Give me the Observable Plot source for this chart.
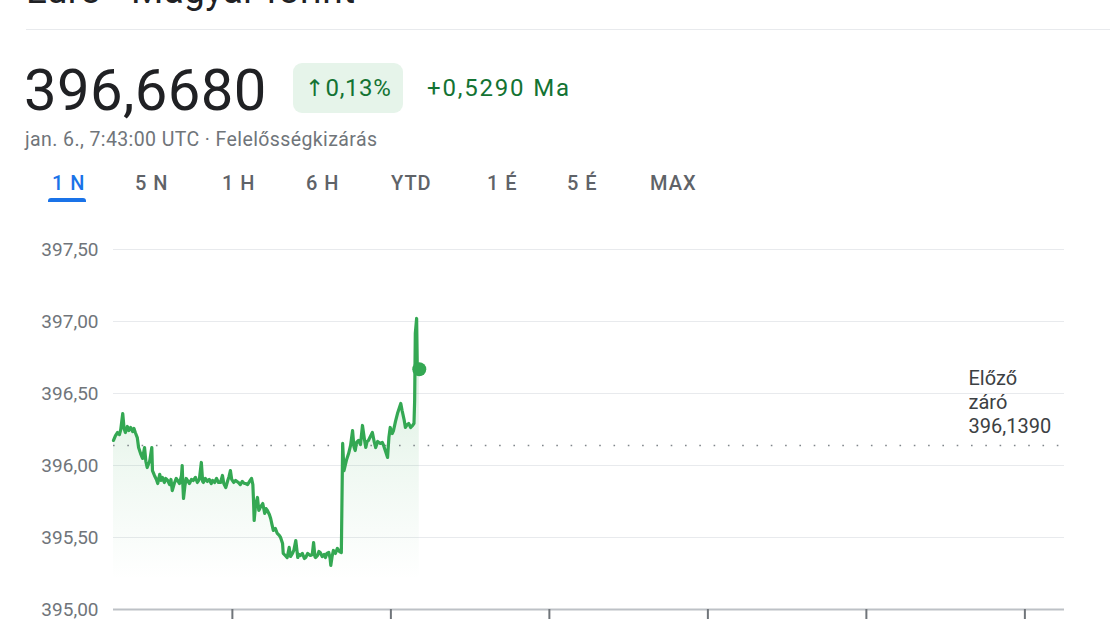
<!DOCTYPE html>
<html>
<head>
<meta charset="utf-8">
<script src="https://cdn.jsdelivr.net/npm/d3@7"></script>
<script src="https://cdn.jsdelivr.net/npm/@observablehq/plot@0.6"></script>
<style>
  html, body { margin: 0; padding: 0; background: #fff; width: 1110px; height: 624px; overflow: hidden; font-family: Roboto, "Noto Sans", sans-serif; }
  .abs { position: absolute; white-space: nowrap; }
  #title { left: 26px; top: -30px; font-size: 37px; color: #202124; line-height: 42px; letter-spacing: 0.3px; }
  #sep { left: 26px; top: 29px; width: 1084px; height: 1px; background: #e8eaed; }
  #price { left: 24px; top: 57px; font-size: 58px; color: #202124; line-height: 66px; letter-spacing: 0.4px; }
  #badge { left: 293px; top: 63px; width: 110px; height: 50px; border-radius: 9px; background: #e6f4ea; color: #137333; font-size: 24px; line-height: 50px; text-align: center; letter-spacing: 0.6px; }
  #badge .arr { font-family: "DejaVu Sans", sans-serif; font-size: 23px; margin-right: 1px; }
  #delta { left: 427px; top: 63px; font-size: 24px; line-height: 50px; color: #137333; letter-spacing: 1.8px; }
  #sub { left: 25px; top: 128px; font-size: 19.5px; color: #70757a; line-height: 24px; letter-spacing: 0.4px; }
  .tab { top: 169px; font-size: 20px; color: #5f6368; font-weight: 500; line-height: 28px; letter-spacing: 1px; }
  .tab.sel { color: #1a73e8; }
  #uline { left: 48px; top: 198px; width: 38px; height: 4px; border-radius: 3px 3px 0 0; background: #1a73e8; }
  #chart { position: absolute; left: 0; top: 230px; }
</style>
</head>
<body>
<div id="title" class="abs"></div>
<div id="sep" class="abs"></div>
<div id="price" class="abs"></div>
<div id="badge" class="abs"><span class="arr"></span><span class="pct"></span></div>
<div id="delta" class="abs"></div>
<div id="sub" class="abs"></div>
<div id="tabs"></div>
<div id="uline" class="abs"></div>
<div id="chart"></div>
<script>
// ---- texts ----
const titleText = "Euro - Magyar forint";
const priceText = "396,6680";
const changeArrow = "↑";
const changePct = "0,13%";
const changeAbs = "+0,5290 Ma";
const subText = "jan. 6., 7:43:00 UTC · Felelősségkizárás";
const tabLabels = ["1 N", "5 N", "1 H", "6 H", "YTD", "1 É", "5 É", "MAX"];
const tabLeft = [52, 135, 222, 306, 391, 487, 567, 650];
const prevCloseLabel = "Előző\nzáró\n396,1390";
const prevClose = 396.139;

// ---- series (time of day UTC, EUR/HUF rate) ----
const times = [
  "0:00","0:03","0:06","0:09","0:11","0:14","0:16","0:18","0:21","0:23",
  "0:26","0:29","0:31","0:33","0:36","0:38","0:41","0:44","0:47","0:49",
  "0:51","0:55","0:58","0:59","1:02","1:05","1:07","1:10","1:12","1:14",
  "1:17","1:19","1:22","1:25","1:27","1:29","1:32","1:35","1:37","1:40",
  "1:43","1:44","1:45","1:46","1:48","1:50","1:52","1:55","1:58","2:01",
  "2:04","2:07","2:10","2:13","2:15","2:16","2:19","2:22","2:25","2:28",
  "2:30","2:33","2:36","2:39","2:42","2:45","2:47","2:50","2:53","2:55",
  "2:57","2:59","3:02","3:05","3:09","3:12","3:15","3:18","3:20","3:23",
  "3:26","3:29","3:31","3:32","3:33","3:35","3:38","3:40","3:43","3:46",
  "3:49","3:51","3:53","3:56","3:58","4:00","4:02","4:05","4:08","4:11",
  "4:13","4:16","4:17","4:20","4:23","4:26","4:28","4:31","4:33","4:36",
  "4:39","4:41","4:43","4:46","4:49","4:51","4:54","4:58","5:01","5:03",
  "5:05","5:06","5:09","5:11","5:13","5:16","5:19","5:21","5:23","5:26",
  "5:28","5:29","5:31","5:33","5:36","5:39","5:42","5:45","5:47","5:49",
  "5:53","5:56","5:59","6:02","6:04","6:06","6:08","6:11","6:14","6:17",
  "6:20","6:22","6:24","6:26","6:29","6:32","6:35","6:37","6:40","6:44",
  "6:47","6:49","6:52","6:55","6:57","6:59","7:02","7:04","7:07","7:10",
  "7:13","7:15","7:17","7:20","7:22","7:25","7:27","7:30","7:33","7:35",
  "7:36","7:37","7:39","7:40","7:43"];
const values = [
  396.174,396.208,396.229,396.215,396.250,396.361,396.257,396.229,396.271,396.243,
  396.264,396.236,396.257,396.229,396.194,396.125,396.083,396.049,396.125,396.028,
  395.986,396.035,396.125,395.965,395.931,395.903,395.875,395.938,395.896,395.917,
  395.882,395.910,395.896,395.868,395.903,395.826,395.875,395.910,395.896,395.875,
  395.931,396.000,395.868,395.771,395.854,395.910,395.896,395.875,395.903,395.896,
  395.917,395.882,395.903,396.021,395.889,395.882,395.910,395.889,395.903,395.875,
  395.896,395.882,395.910,395.882,395.882,395.931,395.875,395.847,395.896,395.924,
  395.965,395.903,395.882,395.896,395.882,395.868,395.889,395.875,395.875,395.868,
  395.889,395.910,395.868,395.757,395.618,395.722,395.778,395.688,395.715,395.736,
  395.667,395.701,395.688,395.660,395.632,395.590,395.549,395.563,395.528,395.514,
  395.500,395.458,395.389,395.375,395.361,395.431,395.368,395.389,395.410,395.479,
  395.361,395.382,395.375,395.389,395.354,395.361,395.389,395.375,395.382,395.465,
  395.368,395.361,395.375,395.403,395.396,395.368,395.382,395.361,395.389,395.396,
  395.354,395.306,395.368,395.410,395.389,395.424,395.403,395.396,396.153,395.965,
  396.042,396.083,396.139,396.243,396.132,396.104,396.160,396.174,396.146,396.278,
  396.181,396.125,396.167,396.174,396.201,396.229,396.160,396.125,396.167,396.153,
  396.160,396.139,396.097,396.056,396.194,396.264,396.222,396.243,396.306,396.361,
  396.403,396.431,396.382,396.319,396.264,396.285,396.292,396.264,396.278,396.292,
  396.451,396.917,397.021,396.681,396.668];

const yTicks = [395, 395.5, 396, 396.5, 397, 397.5];
const xTickTimes = ["3:00", "7:00", "11:00", "15:00", "19:00", "23:00"];
const xDomainTimes = ["0:00", "24:00"];

// ---- build ----
const toMin = s => { const [h, m] = s.split(":").map(Number); return h * 60 + m; };
const data = times.map((t, i) => ({t: toMin(t), v: values[i]}));
const last = data[data.length - 1];
const fmt = d => d3.format(".2f")(d).replace(".", ",");

document.getElementById("title").textContent = titleText;
document.getElementById("price").textContent = priceText;
document.querySelector("#badge .arr").textContent = changeArrow;
document.querySelector("#badge .pct").textContent = changePct;
document.getElementById("delta").textContent = changeAbs;
document.getElementById("sub").textContent = subText;
const tabs = document.getElementById("tabs");
tabLabels.forEach((l, i) => {
  const d = document.createElement("div");
  d.className = "abs tab" + (i === 0 ? " sel" : "");
  d.style.left = tabLeft[i] + "px";
  d.textContent = l;
  tabs.appendChild(d);
});

const green = "#34a853";
const chart = Plot.plot({
  width: 1110,
  height: 394,
  marginTop: 19,
  marginBottom: 15,
  marginLeft: 113,
  marginRight: 46,
  style: {fontFamily: "Roboto, sans-serif", fontSize: "19px", color: "#70757a", background: "transparent", overflow: "visible"},
  x: {domain: xDomainTimes.map(toMin)},
  y: {domain: [yTicks[0], yTicks[yTicks.length - 1]]},
  marks: [
    Plot.gridY(yTicks.slice(1), {stroke: "#e8eaed", strokeOpacity: 1, strokeWidth: 1}),
    Plot.axisY(yTicks, {tickSize: 0, tickPadding: 15, tickFormat: fmt, label: null, fill: "#70757a", fontSize: 19}),
    Plot.areaY(data, {x: "t", y1: yTicks[0], y2: "v", fill: "url(#areaGrad)"}),
    Plot.ruleY([prevClose], {stroke: "#80868b", strokeWidth: 1.6, strokeDasharray: "1.6,12.7"}),
    Plot.ruleY([yTicks[0]], {stroke: "#bdc1c6", strokeWidth: 2}),
    Plot.axisX(xTickTimes.map(toMin), {tickSize: 10, tickFormat: () => "", fill: "none", stroke: "#70757a", strokeWidth: 2, label: null}),
    Plot.line(data, {x: "t", y: "v", stroke: green, strokeWidth: 3.2, strokeLinejoin: "round", curve: "linear"}),
    Plot.dot([last], {x: "t", y: "v", r: 7, fill: green}),
    Plot.text([prevClose], {y: d => d, text: () => prevCloseLabel, frameAnchor: "right", textAnchor: "start", lineAnchor: "bottom", dx: -96, dy: -12, lineHeight: 1.22, fill: "#3c4043", fontSize: 20})
  ]
});

const ns = "http://www.w3.org/2000/svg";
const defs = document.createElementNS(ns, "defs");
defs.innerHTML = `<linearGradient id="areaGrad" x1="0" y1="0" x2="0" y2="1">
  <stop offset="0" stop-color="${green}" stop-opacity="0.22"/>
  <stop offset="0.5" stop-color="${green}" stop-opacity="0.08"/>
  <stop offset="0.9" stop-color="${green}" stop-opacity="0"/>
</linearGradient>`;
chart.insertBefore(defs, chart.firstChild);
document.getElementById("chart").appendChild(chart);
</script>
</body>
</html>
